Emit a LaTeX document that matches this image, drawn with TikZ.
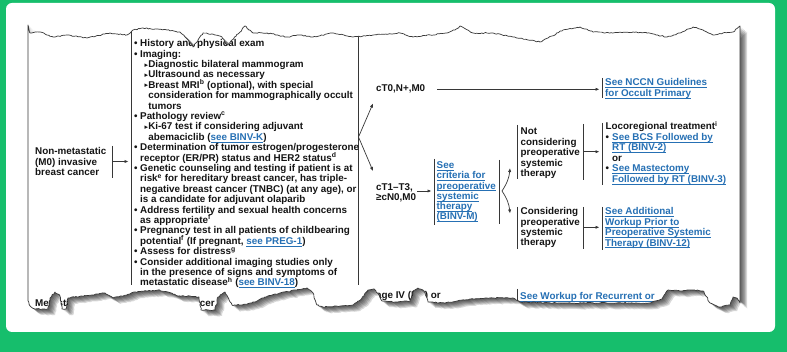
\documentclass[tikz,border=0pt]{standalone}
\usepackage{fontspec}
\setmainfont{Liberation Sans}
\newfontfamily\djv{DejaVu Sans}
\usetikzlibrary{arrows.meta,decorations.pathmorphing}
\definecolor{bggreen}{RGB}{22,190,108}
\definecolor{linkblue}{RGB}{38,112,180}
\definecolor{ink}{RGB}{20,20,20}
\definecolor{rulec}{RGB}{55,55,55}
\newcommand\lk[1]{\textcolor{linkblue}{\underline{\smash{#1}}}}
\newcommand\mbul{\makebox[6pt][l]{•}}
\newcommand\mcont{\hspace*{6pt}}
\newcommand\sbul{\hspace*{10.5pt}\makebox[3.6pt][l]{\raisebox{0.5pt}{\djv\fontsize{7}{7}\selectfont ▸}}}
\newcommand\scont{\hspace*{14.1pt}}
\newcommand\blk[3]{\parbox[t]{#1}{\setlength\baselineskip{#2}\lineskiplimit=-20pt\lineskip=0pt #3}}
\newcommand\paperpath{(28,25) decorate{ -- (30,33) -- (40,32) -- (53,37) -- (67,35) -- (87,38) -- (110,33) -- (127,35) -- (133,30) -- (143,28) -- (167,30) -- (180,32) -- (188,40) -- (193,47) -- (198,40) -- (203,33) -- (215,35) -- (222,37) -- (227,45) -- (232,40) -- (240,32) -- (245,26) -- (253,33) -- (267,33) -- (287,37) -- (300,35) -- (313,37) -- (333,33) -- (353,37) -- (373,35) -- (400,33) -- (413,37) -- (430,35) -- (447,33) -- (455,30) -- (460,26) -- (473,33) -- (493,33) -- (513,37) -- (528,40) -- (540,42) -- (552,36) -- (563,30) -- (580,27) -- (593,32) -- (613,33) -- (633,32) -- (647,33) -- (667,37) -- (680,33) -- (693,27) -- (703,30) -- (713,35) -- (723,33) -- (733,32) -- (740,26)} -- (740,303) decorate{ -- (737,298) -- (733,297) -- (730,305) -- (720,307) -- (710,303) -- (703,291) -- (693,290) -- (680,291) -- (668,290) -- (662,299) -- (650,303) -- (600,303) -- (560,303) -- (520,302) -- (513,298) -- (490,298) -- (470,299) -- (457,301) -- (445,303) -- (428,302) -- (424,291) -- (418,288) -- (413,291) -- (410,301) -- (395,302) -- (382,301) -- (379,295) -- (374,289) -- (368,290) -- (362,298) -- (353,305) -- (323,307) -- (317,305) -- (313,293) -- (307,288) -- (297,290) -- (280,293) -- (265,297) -- (255,302) -- (242,305) -- (232,305) -- (225,292) -- (218,297) -- (215,310) -- (201,310) -- (199,297) -- (190,296) -- (178,296) -- (168,292) -- (158,290) -- (135,292) -- (122,296) -- (113,298) -- (105,293) -- (92,295) -- (75,297) -- (68,298) -- (66,309) -- (62,309) -- (60,296) -- (55,292) -- (50,298) -- (48,309) -- (35,309) -- (30,306) -- (28,300)} -- cycle}
\tikzset{
  txt/.style={inner sep=0pt, anchor=base west, text=ink, font=\bfseries\fontsize{9.85}{10.4}\selectfont},
  ln/.style={draw=rulec, line width=0.7pt},
  arr/.style={ln, -{Latex[length=4pt,width=3.2pt]}},
}
\begin{document}
\begin{tikzpicture}[x=1pt,y=-1pt, decoration={random steps,segment length=1.8pt,amplitude=0.55pt}]
\useasboundingbox (0,0) rectangle (787,352);
\fill[bggreen] (0,0) rectangle (787,352);
\fill[white, rounded corners=6pt] (6,3) rectangle (775,332);
% shadow
\foreach \s in {1,...,6}{%
  \pgfmathsetseed{11}
  \fill[black, opacity=0.15, shift={(1.2*\s,\s)}] \paperpath;
}
\pgfmathsetseed{11}
\fill[white] \paperpath;
\begin{scope}
\pgfmathsetseed{11}
\clip \paperpath;
% left column
\node[txt] (nm) at (35,155) {\blk{100pt}{10.4pt}{Non-metastatic\\(M0) invasive\\breast cancer}};
\coordinate (nmT) at (112,146); \coordinate (nmB) at (112,178);
\draw[ln] (nmT) -- (nmB);
\coordinate (nmA) at (113,161.5); \coordinate (wuA) at (128.5,161.5);
\draw[arr] (nmA) -- (wuA);
% workup list
\coordinate (wuLT) at (131,20); \coordinate (wuLB) at (131,285);
\coordinate (wuRT) at (358,20); \coordinate (wuRB) at (358,285);
\draw[ln] (wuLT) -- (wuLB);
\draw[ln] (wuRT) -- (wuRB);
\node[txt] (workup) at (134,46.8) {\blk{260pt}{10.4pt}{%
\mbul History and physical exam\\
\mbul Imaging:\\
\sbul Diagnostic bilateral mammogram\\
\sbul Ultrasound as necessary\\
\sbul Breast MRI\textsuperscript{b} (optional), with special\\
\scont consideration for mammographically occult\\
\scont tumors\\
\mbul Pathology review\textsuperscript{c}\\
\sbul Ki-67 test if considering adjuvant\\
\scont abemaciclib (\lk{see BINV-K})\\
\mbul Determination of tumor estrogen/progesterone\\
\mcont receptor (ER/PR) status and HER2 status\textsuperscript{d}\\
\mbul Genetic counseling and testing if patient is at\\
\mcont risk\textsuperscript{e} for hereditary breast cancer, has triple-\\
\mcont negative breast cancer (TNBC) (at any age), or\\
\mcont is a candidate for adjuvant olaparib\\
\mbul Address fertility and sexual health concerns\\
\mcont as appropriate\textsuperscript{f}\\
\mbul Pregnancy test in all patients of childbearing\\
\mcont potential\textsuperscript{f} (If pregnant, \lk{see PREG-1})\\
\mbul Assess for distress\textsuperscript{g}\\
\mbul Consider additional imaging studies only\\
\mcont in the presence of signs and symptoms of\\
\mcont metastatic disease\textsuperscript{h} (\lk{see BINV-18})}};
% fork
\coordinate (fork) at (358.5,137); \coordinate (upT) at (373,103.5); \coordinate (dnT) at (373,171);
\draw[arr] (fork) -- (upT);
\draw[arr] (fork) -- (dnT);
% cT0 row
\node[txt] (ct0) at (376,92) {cT0,N+,M0};
\coordinate (c0s) at (437,89.3); \coordinate (c0e) at (599.5,89.3);
\draw[arr] (c0s) -- (c0e);
\coordinate (ncT) at (602,78); \coordinate (ncB) at (602,98);
\draw[ln] (ncT) -- (ncB);
\node[txt] (nccn) at (605,86) {\blk{150pt}{10.6pt}{\lk{See NCCN Guidelines}\\\lk{for Occult Primary}}};
% cT1 row
\node[txt] (ct1) at (376,190.3) {\blk{60pt}{10.4pt}{cT1–T3,\\≥cN0,M0}};
\coordinate (c1s) at (417,191); \coordinate (c1e) at (431.5,191);
\draw[arr] (c1s) -- (c1e);
\coordinate (bmLT) at (434,159); \coordinate (bmLB) at (434,225);
\coordinate (bmRT) at (499,160); \coordinate (bmRB) at (499,224);
\draw[ln] (bmLT) -- (bmLB);
\draw[ln] (bmRT) -- (bmRB);
\node[txt] (binvm) at (436.5,168.5) {\blk{80pt}{10.3pt}{\lk{See}\\\lk{criteria for}\\\lk{preoperative}\\\lk{systemic}\\\lk{therapy}\\\lk{(BINV-M)}}};
\coordinate (fork2) at (502,191); \coordinate (f2u) at (510,168); \coordinate (f2d) at (510,213.5);
\draw[arr] (fork2) to[bend right=14] (f2u);
\draw[arr] (fork2) to[bend left=14] (f2d);
% not considering
\coordinate (ncLT) at (517,125); \coordinate (ncLB) at (517,179);
\coordinate (ncRT) at (583,124); \coordinate (ncRB) at (583,180);
\draw[ln] (ncLT) -- (ncLB);
\draw[ln] (ncRT) -- (ncRB);
\node[txt] (notc) at (520.5,135) {\blk{70pt}{10.5pt}{Not\\considering\\preoperative\\systemic\\therapy}};
\coordinate (nas) at (583.5,151.7); \coordinate (nae) at (599.5,151.7);
\draw[arr] (nas) -- (nae);
% considering
\coordinate (coLT) at (517,207); \coordinate (coLB) at (517,249);
\coordinate (coRT) at (583,207); \coordinate (coRB) at (583,249);
\draw[ln] (coLT) -- (coLB);
\draw[ln] (coRT) -- (coRB);
\node[txt] (cons) at (520.5,215) {\blk{70pt}{10.3pt}{Considering\\preoperative\\systemic\\therapy}};
\coordinate (cas) at (583.5,227.3); \coordinate (cae) at (599.5,227.3);
\draw[arr] (cas) -- (cae);
% locoregional
\coordinate (lrT) at (602,123); \coordinate (lrB) at (602,185);
\draw[ln] (lrT) -- (lrB);
\node[txt] (loco) at (605.5,130) {\blk{150pt}{10.5pt}{Locoregional treatment\textsuperscript{i}\\
\makebox[6.5pt][l]{•}\lk{See BCS Followed by}\\
\hspace*{6.5pt}\lk{RT (BINV-2)}\\
\hspace*{6.5pt}or\\
\makebox[6.5pt][l]{•}\lk{See Mastectomy}\\
\hspace*{6.5pt}\lk{Followed by RT (BINV-3)}}};
% additional workup
\coordinate (saT) at (602,207); \coordinate (saB) at (602,250);
\draw[ln] (saT) -- (saB);
\node[txt] (addw) at (605,215) {\blk{150pt}{10.35pt}{\lk{See Additional}\\\lk{Workup Prior to}\\\lk{Preoperative Systemic}\\\lk{Therapy (BINV-12)}}};
% bottom (torn) row
\node[txt] (meta) at (35,307) {Metastatic (M1) invasive breast cancer};
\node[txt] (stg) at (366,299) {Stage IV (M1) or};
\coordinate (rcT) at (517,289); \coordinate (rcB) at (517,305);
\draw[ln] (rcT) -- (rcB);
\node[txt] (recur) at (520,299.5) {\lk{See Workup for Recurrent or}};
\end{scope}
\pgfmathsetseed{11}
\draw[rulec, line width=0.7pt, line join=round] \paperpath;
\end{tikzpicture}
\end{document}
